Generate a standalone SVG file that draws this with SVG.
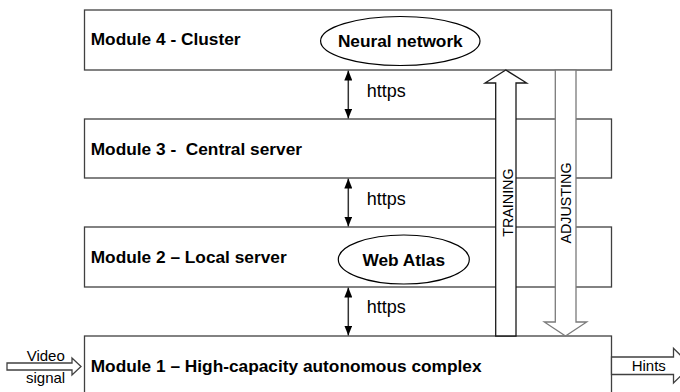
<svg xmlns="http://www.w3.org/2000/svg" width="680" height="392" viewBox="0 0 680 392">
<style>
.box{fill:#fff;stroke:#404040;stroke-width:1.3}
.lbl{font-family:"Liberation Sans",Arial,sans-serif;font-weight:bold;font-size:17.3px;fill:#000;white-space:pre}
.txt{font-family:"Liberation Sans",Arial,sans-serif;font-size:18px;fill:#000}
.sm{font-family:"Liberation Sans",Arial,sans-serif;font-size:15px;fill:#000}
.vt{font-family:"Liberation Sans",Arial,sans-serif;font-size:14.3px;fill:#000}
.ell{fill:#fff;stroke:#000;stroke-width:1.2}
.dbl{stroke:#333;stroke-width:1.5;fill:none;marker-start:url(#ah);marker-end:url(#ah)}
.fat{fill:#fff;stroke-width:1.3}
</style>
<defs>
<marker id="ah" viewBox="0 0 10 8" refX="10" refY="4" markerWidth="10" markerHeight="8" markerUnits="userSpaceOnUse" orient="auto-start-reverse">
<path d="M0,0 L10,4 L0,8 Z" fill="#000"/>
</marker>
</defs>
<g id="module4">
<rect class="box" x="84.5" y="10" width="527" height="60"/>
<text class="lbl" x="90.7" y="45">Module 4 - Cluster</text>
<g id="neural-network">
<ellipse class="ell" cx="400.3" cy="41" rx="79.7" ry="24.5"/>
<text class="lbl" x="400.3" y="46.7" text-anchor="middle">Neural network</text>
</g>
</g>
<g id="module3">
<rect class="box" x="84.5" y="119" width="527" height="59"/>
<text class="lbl" x="90.7" y="154.5">Module 3 -  Central server</text>
</g>
<g id="module2">
<rect class="box" x="84.5" y="227" width="527" height="60"/>
<text class="lbl" x="90.7" y="262.5">Module 2 – Local server</text>
<g id="web-atlas">
<ellipse class="ell" cx="403.8" cy="259.5" rx="65.5" ry="24.5"/>
<text class="lbl" x="403.8" y="265.7" text-anchor="middle">Web Atlas</text>
</g>
</g>
<g id="module1">
<rect class="box" x="84.5" y="336" width="527" height="70"/>
<text class="lbl" x="90.7" y="371.7">Module 1 – High-capacity autonomous complex</text>
</g>
<g id="connectors">
<line class="dbl" x1="348.3" y1="70.5" x2="348.3" y2="118.5"/>
<text class="txt" x="366.7" y="96.7">https</text>
<line class="dbl" x1="348.3" y1="178.5" x2="348.3" y2="226.5"/>
<text class="txt" x="366.7" y="204.5">https</text>
<line class="dbl" x1="348.3" y1="287.5" x2="348.3" y2="335.5"/>
<text class="txt" x="366.7" y="313.3">https</text>
<g id="training">
<polygon class="fat" stroke="#1a1a1a" points="495.7,336 495.7,83 485,83 505.8,70 526.7,83 516,83 516,336"/>
<text class="vt" transform="translate(513,202.6) rotate(-90)" text-anchor="middle">TRAINING</text>
</g>
<g id="adjusting">
<polygon class="fat" stroke="#7a7a7a" points="555.3,70 576,70 576,322 586.7,322 565.5,336 544.3,322 555.3,322"/>
<text class="vt" transform="translate(570.5,203) rotate(-90)" text-anchor="middle">ADJUSTING</text>
</g>
<g id="video-signal">
<polygon class="fat" stroke="#404040" points="7,363 72,363 72,358 81,366.5 72,375 72,370 7,370"/>
<text class="sm" x="26.7" y="360.7">Video</text>
<text class="sm" x="26" y="383.3">signal</text>
</g>
<g id="hints">
<polygon class="fat" stroke="#404040" points="611.5,357 673.5,357 673.5,348.3 691,365.7 673.5,383 673.5,374.5 611.5,374.5"/>
<text class="sm" x="631.7" y="370.7">Hints</text>
</g>
</g>
</svg>
